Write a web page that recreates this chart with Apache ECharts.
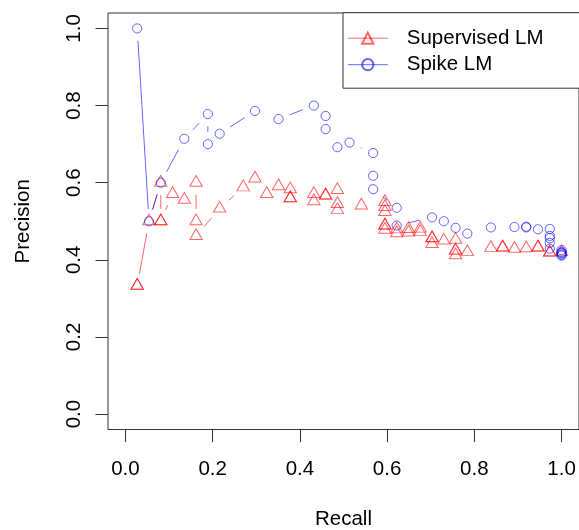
<!DOCTYPE html>
<html>
<head>
<meta charset="utf-8">
<script src="https://cdn.jsdelivr.net/npm/echarts@6/dist/echarts.min.js"></script>
<style>
html, body { margin: 0; padding: 0; background: #ffffff; }
#chart { width: 579px; height: 530px; }
</style>
</head>
<body>
<div id="chart"></div>
<script>
// ---------- data ----------
const seriesNames = ['Supervised LM', 'Spike LM'];

const supervisedRecall = [
  0.027, 0.027, 0.054, 0.081, 0.081, 0.081, 0.108, 0.135, 0.162, 0.162,
  0.162, 0.216, 0.270, 0.297, 0.324, 0.351, 0.378, 0.378, 0.378, 0.432,
  0.432, 0.459, 0.459, 0.486, 0.486, 0.486, 0.541, 0.595, 0.595, 0.595,
  0.595, 0.595, 0.595, 0.622, 0.622, 0.649, 0.649, 0.676, 0.676, 0.703,
  0.703, 0.703, 0.730, 0.757, 0.757, 0.757, 0.757, 0.784, 0.838, 0.865,
  0.865, 0.892, 0.919, 0.946, 0.946, 0.973, 0.973, 1.000
];
const supervisedPrecision = [
  0.333, 0.333, 0.500, 0.600, 0.500, 0.500, 0.571, 0.556, 0.600, 0.500,
  0.462, 0.533, 0.588, 0.611, 0.571, 0.591, 0.583, 0.560, 0.560, 0.571,
  0.552, 0.567, 0.567, 0.581, 0.545, 0.529, 0.541, 0.550, 0.537, 0.524,
  0.489, 0.489, 0.478, 0.479, 0.469, 0.480, 0.471, 0.481, 0.472, 0.456,
  0.456, 0.441, 0.450, 0.452, 0.424, 0.424, 0.412, 0.420, 0.431, 0.432,
  0.432, 0.429, 0.430, 0.432, 0.432, 0.419, 0.419, 0.420
];

const spikeRecall = [
  0.027, 0.054, 0.081, 0.135, 0.189, 0.189, 0.216, 0.297, 0.351, 0.432,
  0.459, 0.459, 0.486, 0.514, 0.568, 0.568, 0.568, 0.622, 0.622, 0.703,
  0.730, 0.757, 0.784, 0.838, 0.892, 0.919, 0.919, 0.946, 0.973, 0.973,
  0.973, 0.973, 0.973, 1.000, 1.000, 1.000, 1.000, 1.000, 1.000
];
const spikePrecision = [
  1.000, 0.500, 0.600, 0.714, 0.778, 0.700, 0.727, 0.786, 0.765, 0.800,
  0.773, 0.739, 0.692, 0.704, 0.677, 0.618, 0.583, 0.535, 0.489, 0.510,
  0.500, 0.483, 0.468, 0.484, 0.485, 0.486, 0.484, 0.479, 0.480, 0.462,
  0.456, 0.444, 0.429, 0.425, 0.420, 0.418, 0.416, 0.413, 0.411
];

const tickValues = [0, 0.2, 0.4, 0.6, 0.8, 1.0];
const tickLabels = ['0.0', '0.2', '0.4', '0.6', '0.8', '1.0'];
const xTitle = 'Recall';
const yTitle = 'Precision';

// ---------- styling ----------
const RED = 'rgba(255,0,0,0.6)';
const BLUE = 'rgba(0,0,255,0.6)';
const INK = '#000000';
const FRAME = '#333333';
const FONT = '"Liberation Sans", Arial, Helvetica, sans-serif';
const FS = 20.5;
const GAP = 12.3; // R type="b" gap around points (px)

function pairs(xs, ys) { return xs.map((x, i) => [x, ys[i]]); }
function segments(xs, ys) {
  const s = [];
  for (let i = 1; i < xs.length; i++) s.push([xs[i - 1], ys[i - 1], xs[i], ys[i]]);
  return s;
}
function gapRender(color) {
  return function (params, api) {
    const a = api.coord([api.value(0), api.value(1)]);
    const b = api.coord([api.value(2), api.value(3)]);
    const dx = b[0] - a[0], dy = b[1] - a[1];
    const d = Math.sqrt(dx * dx + dy * dy);
    if (d <= 2 * GAP) return null;
    const f = GAP / d;
    return {
      type: 'line',
      silent: true,
      shape: { x1: a[0] + f * dx, y1: a[1] + f * dy, x2: b[0] - f * dx, y2: b[1] - f * dy },
      style: { stroke: color, lineWidth: 1, fill: null }
    };
  };
}
function labelFor(v) {
  const i = tickValues.findIndex(t => Math.abs(t - v) < 1e-9);
  return i >= 0 ? tickLabels[i] : '';
}
const textBase = { fontFamily: FONT, fontSize: FS, color: INK, lineHeight: FS };

const chart = echarts.init(document.getElementById('chart'), null, { renderer: 'canvas' });
chart.setOption({
  animation: false,
  backgroundColor: '#ffffff',
  grid: {
    left: 108, top: 13, width: 471, height: 416.5,
    show: true, borderColor: FRAME, borderWidth: 1, backgroundColor: 'transparent',
    containLabel: false, outerBoundsMode: 'none'
  },
  xAxis: {
    type: 'value', min: -0.04, max: 1.04,
    axisLine: { show: false, onZero: false },
    splitLine: { show: false },
    axisTick: { show: true, inside: false, length: 12.5, customValues: tickValues, lineStyle: { color: FRAME, width: 1 } },
    axisLabel: Object.assign({ customValues: tickValues, formatter: labelFor, margin: 30 }, textBase),
    name: xTitle, nameLocation: 'middle', nameGap: 80,
    nameTextStyle: Object.assign({}, textBase)
  },
  yAxis: {
    type: 'value', min: -0.04, max: 1.04,
    axisLine: { show: false, onZero: false },
    splitLine: { show: false },
    axisTick: { show: true, inside: false, length: 12.5, customValues: tickValues, lineStyle: { color: FRAME, width: 1 } },
    axisLabel: Object.assign({ customValues: tickValues, formatter: labelFor, margin: 23, rotate: 90 }, textBase),
    name: yTitle, nameLocation: 'middle', nameGap: 74, nameRotate: 90,
    nameTextStyle: Object.assign({}, textBase)
  },
  legend: {
    data: seriesNames,
    orient: 'vertical',
    left: 343, top: 12.7,
    itemWidth: 40, itemHeight: 14, itemGap: 5.5,
    padding: [15, 40, 13, 4.3],
    borderColor: FRAME, borderWidth: 1, borderRadius: 0,
    backgroundColor: '#ffffff',
    selectedMode: false,
    lineStyle: { width: 1 },
    textStyle: Object.assign({ padding: [0, 0, 0, 14] }, textBase)
  },
  series: [
    {
      type: 'custom', coordinateSystem: 'cartesian2d', silent: true, z: 2,
      data: segments(supervisedRecall, supervisedPrecision),
      renderItem: gapRender(RED)
    },
    {
      type: 'custom', coordinateSystem: 'cartesian2d', silent: true, z: 2,
      data: segments(spikeRecall, spikePrecision),
      renderItem: gapRender(BLUE)
    },
    {
      type: 'line', name: seriesNames[0], z: 3,
      data: pairs(supervisedRecall, supervisedPrecision),
      symbol: 'triangle', symbolSize: [12.4, 10.7], symbolOffset: [0, -1.8],
      showSymbol: true, showAllSymbol: true,
      itemStyle: { color: 'rgba(0,0,0,0)', borderColor: RED, borderWidth: 1 },
      lineStyle: { color: RED, width: 0 },
      emphasis: { disabled: true }
    },
    {
      type: 'line', name: seriesNames[1], z: 3,
      data: pairs(spikeRecall, spikePrecision),
      symbol: 'circle', symbolSize: 9.2,
      showSymbol: true, showAllSymbol: true,
      itemStyle: { color: 'rgba(0,0,0,0)', borderColor: BLUE, borderWidth: 1 },
      lineStyle: { color: BLUE, width: 0 },
      emphasis: { disabled: true }
    }
  ]
});
</script>
</body>
</html>
